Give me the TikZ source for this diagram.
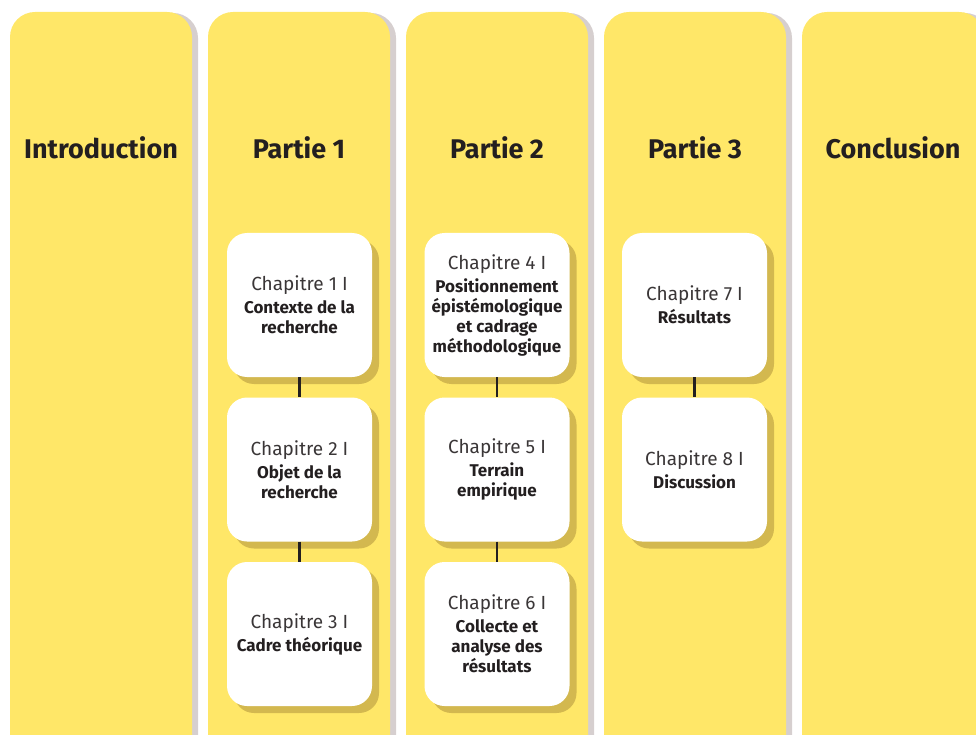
\documentclass[tikz,border=0pt]{standalone}
\usepackage{fontspec}
\setmainfont{Fira Sans}
\usetikzlibrary{shadows}
\definecolor{colyellow}{HTML}{FFE768}
\definecolor{colshadow}{HTML}{D6CFCF}
\definecolor{boxshadow}{HTML}{D3B84F}
\definecolor{ink}{HTML}{231F20}
\definecolor{lightink}{HTML}{3A3637}
\newcommand\chaplabel[1]{{\mdseries\color{lightink}\fontsize{19}{20}\selectfont Chapitre #1 I}\\[3pt]}
\begin{document}
\begin{tikzpicture}[x=1pt,y=-1pt,
  column/.style={fill=colyellow, rounded corners=25pt, minimum width=182pt, minimum height=760pt, inner sep=0pt,
    general shadow={fill=colshadow, shadow xshift=6pt, shadow yshift=-1pt}},
  heading/.style={font=\bfseries\fontsize{27}{30}\selectfont, text=ink},
  chapbox/.style={fill=white, rounded corners=20pt, minimum width=145pt, minimum height=144pt, inner sep=0pt,
    align=center, text=ink, font=\bfseries\fontsize{17}{20}\selectfont,
    general shadow={fill=boxshadow, shadow xshift=7pt, shadow yshift=-7pt}},
  link/.style={draw=ink, line width=2.5pt}]
\path[use as bounding box, clip] (0,0) rectangle (976,735);
% columns
\node[column] (c0) at (101,392) {};
\node[column] (c1) at (299,392) {};
\node[column] (c2) at (497,392) {};
\node[column] (c3) at (695,392) {};
\node[column] (c4) at (893,392) {};
% headings
\node[heading] (h0) at (101,148) {Introduction};
\node[heading] (h1) at (299,148) {Partie 1};
\node[heading] (h2) at (497,148) {Partie 2};
\node[heading] (h3) at (695,148) {Partie 3};
\node[heading] (h4) at (893,148) {Conclusion};
% chapter boxes
\node[chapbox] (b1) at (299.5,305) {\chaplabel{1}Contexte de la\\recherche};
\node[chapbox] (b2) at (299.5,469.5) {\chaplabel{2}Objet de la\\recherche};
\node[chapbox] (b3) at (299.5,634) {\chaplabel{3}Cadre théorique};
\node[chapbox] (b4) at (497,305) {\chaplabel{4}Positionnement\\épistémologique\\et cadrage\\méthodologique};
\node[chapbox] (b5) at (497,469.5) {\chaplabel{5}Terrain\\empirique};
\node[chapbox] (b6) at (497,634) {\chaplabel{6}Collecte et\\analyse des\\résultats};
\node[chapbox] (b7) at (694.5,305) {\chaplabel{7}Résultats};
\node[chapbox] (b8) at (694.5,469.5) {\chaplabel{8}Discussion};
% connectors
\draw[link] (b1.south) -- (b2.north);
\draw[link] (b2.south) -- (b3.north);
\draw[link] (b4.south) -- (b5.north);
\draw[link] (b5.south) -- (b6.north);
\draw[link] (b7.south) -- (b8.north);
\end{tikzpicture}
\end{document}
